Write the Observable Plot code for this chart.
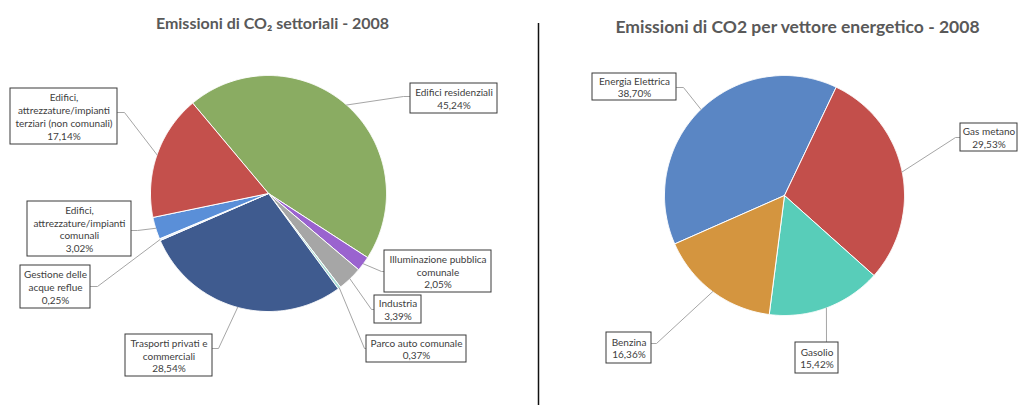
<!DOCTYPE html>
<html><head><meta charset="utf-8">
<script src="https://cdn.jsdelivr.net/npm/d3@7"></script>
<script src="https://cdn.jsdelivr.net/npm/@observablehq/plot@0.6"></script>
<style>html,body{margin:0;padding:0;background:#fff;overflow:hidden}</style>
</head><body><div id="chart"></div>
<script>
// ---------- DATA ----------
const sectorTitle = "Emissioni di CO₂ settoriali - 2008";
const sectorCategories = [
  "Edifici residenziali",
  "Illuminazione pubblica\ncomunale",
  "Industria",
  "Parco auto comunale",
  "Trasporti privati e\ncommerciali",
  "Gestione delle\nacque reflue",
  "Edifici,\nattrezzature/impianti\ncomunali",
  "Edifici,\nattrezzature/impianti\nterziari (non comunali)"
];
const sectorValues = [45.24, 2.05, 3.39, 0.37, 28.54, 0.25, 3.02, 17.14];

const carrierTitle = "Emissioni di CO2 per vettore energetico - 2008";
const carrierCategories = ["Energia Elettrica", "Gas metano", "Gasolio", "Benzina"];
const carrierValues = [38.70, 29.53, 15.42, 16.36];

// ---------- STYLE / LAYOUT ----------
const sectorColors = ["#8aac62", "#9a63cf", "#a6a6a6", "#a8dcd4", "#3f5b8f", "#e4eef8", "#5a8fd8", "#c4504c"];
const carrierColors = ["#5a86c4", "#c34f4b", "#58cdb9", "#d4953f"];

const leftPie = {cx: 268, cy: 193, r: 118, start: -40};
const rightPie = {cx: 784, cy: 195, r: 120, start: -113.8};

// label boxes [x1,y1,x2,y2] and leader elbow points (after the slice edge point)
const sectorBoxes = [
  [410, 83, 497, 113],
  [384, 250, 491, 292],
  [374, 295, 421, 323],
  [366, 335, 466, 362],
  [125, 334, 212, 376],
  [20, 265, 90, 308],
  [27, 201, 131, 256],
  [10, 88, 117, 144]
];
const sectorElbows = [
  [[403, 96], [410, 96]],
  [[381, 271], [384, 271]],
  [[371, 309], [374, 309]],
  [[364, 348], [366, 348]],
  [[218, 348], [212, 348]],
  [[97, 286], [90, 286]],
  [[137, 230], [131, 230]],
  [[124, 112], [117, 112]]
];
const carrierBoxes = [
  [592, 73, 676, 100],
  [960, 123, 1017, 151],
  [795, 342, 838, 373],
  [606, 332, 651, 363]
];
const carrierElbows = [
  [[683, 87], [676, 87]],
  [[955, 137], [960, 137]],
  [[826, 342]],
  [[656, 343], [651, 343]]
];

const fmt = v => v.toFixed(2).replace(".", ",") + "%";
const rad = a => a * Math.PI / 180;

function build(values, names, colors, L, boxes, elbows) {
  const total = d3.sum(values);
  let a = L.start;
  const sliceMarks = [], labels = [], leaders = [], rects = [];
  values.forEach((v, i) => {
    const a0 = a, a1 = a + v / total * 360; a = a1;
    const n = Math.max(2, Math.ceil((a1 - a0) / 0.5));
    const pts = [{x: L.cx, y: L.cy}];
    for (let j = 0; j <= n; j++) {
      const t = rad(a0 + (a1 - a0) * j / n);
      pts.push({x: L.cx + L.r * Math.sin(t), y: L.cy - L.r * Math.cos(t)});
    }
    pts.push({x: L.cx, y: L.cy});
    sliceMarks.push(Plot.line(pts, {x: "x", y: "y", fill: colors[i], stroke: "white", strokeWidth: 1, strokeLinejoin: "round"}));
    const m = rad((a0 + a1) / 2);
    const edge = {x: L.cx + L.r * Math.sin(m), y: L.cy - L.r * Math.cos(m), k: i};
    leaders.push(edge, ...elbows[i].map(p => ({x: p[0], y: p[1], k: i})));
    const b = boxes[i];
    rects.push({x1: b[0], y1: b[1], x2: b[2], y2: b[3]});
    labels.push({x: (b[0] + b[2]) / 2, y: (b[1] + b[3]) / 2, text: names[i] + "\n" + fmt(v)});
  });
  return {sliceMarks, labels, leaders, rects};
}

const S = build(sectorValues, sectorCategories, sectorColors, leftPie, sectorBoxes, sectorElbows);
const C = build(carrierValues, carrierCategories, carrierColors, rightPie, carrierBoxes, carrierElbows);

const labelFont = {fontSize: 10, fill: "#404040", lineHeight: 1.28, textAnchor: "middle", lineAnchor: "middle"};

const chart = Plot.plot({
  width: 1018, height: 405,
  margin: 0,
  style: {fontFamily: "Lato, 'Open Sans', sans-serif", background: "white"},
  x: {domain: [0, 1018], range: [0, 1018], axis: null},
  y: {domain: [0, 405], range: [0, 405], axis: null},
  marks: [
    ...S.sliceMarks,
    ...C.sliceMarks,
    Plot.line(S.leaders, {x: "x", y: "y", z: "k", stroke: "#a6a6a6", strokeWidth: 1}),
    Plot.line(C.leaders, {x: "x", y: "y", z: "k", stroke: "#a6a6a6", strokeWidth: 1}),
    Plot.rect(S.rects.concat(C.rects), {x1: "x1", x2: "x2", y1: "y1", y2: "y2", fill: "white", stroke: "#3a3a3a", strokeWidth: 1}),
    Plot.text(S.labels.concat(C.labels), {x: "x", y: "y", text: "text", ...labelFont}),
    Plot.text([{x: 272, y: 23, t: sectorTitle}], {x: "x", y: "y", text: "t", fontSize: 16, fontWeight: "bold", fill: "#595959", textAnchor: "middle"}),
    Plot.text([{x: 797, y: 27, t: carrierTitle}], {x: "x", y: "y", text: "t", fontSize: 17.5, fontWeight: "bold", fill: "#595959", textAnchor: "middle"}),
    Plot.ruleX([538], {y1: 23, y2: 405, stroke: "#111", strokeWidth: 1.5})
  ]
});
document.getElementById("chart").append(chart);
</script>
</body></html>
